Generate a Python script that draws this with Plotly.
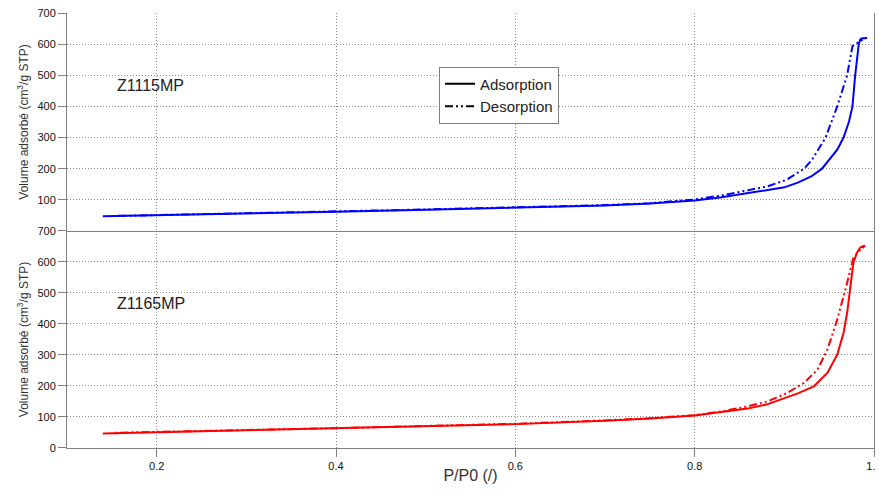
import plotly.graph_objects as go

# Z1115MP (blue, top panel)
top_ads_p = [0.14, 0.2, 0.3, 0.4, 0.5, 0.6, 0.7, 0.75, 0.8, 0.83, 0.86, 0.88, 0.9, 0.915, 0.93, 0.942, 0.95, 0.959, 0.966, 0.972, 0.976, 0.979, 0.983, 0.985]
top_ads_v = [47, 51, 57, 62, 68, 74, 82, 88, 98, 108, 121, 129, 140, 155, 175, 200, 228, 261, 300, 350, 400, 500, 600, 618]
top_des_p = [0.985, 0.992, 0.986, 0.976, 0.970, 0.959, 0.946, 0.931, 0.922, 0.903, 0.881, 0.859, 0.83, 0.8, 0.75, 0.7, 0.6, 0.5, 0.4, 0.3, 0.2, 0.15]
top_des_v = [618, 620, 612, 594, 500, 400, 300, 229, 200, 165, 143, 130, 114, 101, 89, 83, 75, 69, 63, 57, 52, 48]

# Z1165MP (red, bottom panel)
bot_ads_p = [0.14, 0.2, 0.3, 0.4, 0.5, 0.6, 0.7, 0.75, 0.8, 0.83, 0.859, 0.88, 0.896, 0.915, 0.933, 0.948, 0.959, 0.966, 0.970, 0.974, 0.977, 0.981, 0.985]
bot_ads_v = [47, 51, 57, 63, 69, 77, 88, 95, 105, 115, 127, 140, 156, 176, 199, 242, 301, 371, 435, 521, 597, 630, 648]
bot_des_p = [0.985, 0.99, 0.985, 0.977, 0.969, 0.959, 0.948, 0.937, 0.922, 0.903, 0.881, 0.859, 0.83, 0.8, 0.75, 0.7, 0.6, 0.5, 0.4, 0.3, 0.2, 0.15]
bot_des_v = [648, 652, 640, 613, 521, 414, 317, 253, 210, 177, 150, 134, 118, 106, 96, 89, 78, 70, 64, 58, 52, 49]

y_ticks_top = [100, 200, 300, 400, 500, 600, 700]
y_ticks_bot = [0, 100, 200, 300, 400, 500, 600, 700]
x_ticks = [0.2, 0.4, 0.6, 0.8, 1.0]
x_tick_text = ["0.2", "0.4", "0.6", "0.8", "1.0"]

DASH = "8px,3px,2px,3px,2px,3px"
FONT = "Arial, Liberation Sans, sans-serif"

fig = go.Figure()
fig.add_trace(go.Scatter(x=top_ads_p, y=top_ads_v, mode="lines", line=dict(color="#0000ff", width=2),
                         xaxis="x2", yaxis="y2", showlegend=False))
fig.add_trace(go.Scatter(x=top_des_p, y=top_des_v, mode="lines", line=dict(color="#0000ff", width=2, dash=DASH),
                         xaxis="x2", yaxis="y2", showlegend=False))
fig.add_trace(go.Scatter(x=bot_ads_p, y=bot_ads_v, mode="lines", line=dict(color="#ff0000", width=2),
                         xaxis="x", yaxis="y", showlegend=False))
fig.add_trace(go.Scatter(x=bot_des_p, y=bot_des_v, mode="lines", line=dict(color="#ff0000", width=2, dash=DASH),
                         xaxis="x", yaxis="y", showlegend=False))
# legend entries (black)
fig.add_trace(go.Scatter(x=[None], y=[None], mode="lines", name="Adsorption",
                         line=dict(color="black", width=2), xaxis="x2", yaxis="y2"))
fig.add_trace(go.Scatter(x=[None], y=[None], mode="lines", name="Desorption",
                         line=dict(color="black", width=2, dash=DASH), xaxis="x2", yaxis="y2"))

split = 0.499
grid = dict(showgrid=True, gridcolor="#8a8a8a", griddash="1px,2px", gridwidth=1)
yax_common = dict(range=[0, 700], showline=True, linecolor="#808080", linewidth=1, mirror=True,
                  ticks="outside", ticklen=8, tickcolor="#808080", zeroline=False, automargin=False,
                  ticklabeloverflow="allow",
                  tickfont=dict(size=11, color="#111111", family=FONT),
                  title=dict(text="Volume adsorbé (cm<sup>3</sup>/g STP)", font=dict(size=12, color="#333333", family=FONT), standoff=6),
                  **grid)

fig.update_layout(
    width=883, height=476,
    margin=dict(l=59, r=17, t=5, b=36),
    plot_bgcolor="white", paper_bgcolor="white",
    font=dict(family=FONT),
    xaxis=dict(range=[0.1, 1.0], anchor="y", tickvals=x_ticks, ticktext=x_tick_text,
               showline=True, linecolor="#808080", linewidth=1, ticks="outside", ticklen=8, tickcolor="#808080",
               zeroline=False, automargin=False, ticklabeloverflow="allow",
               tickfont=dict(size=11, color="#111111", family=FONT),
               title=dict(text="P/P0 (/)", font=dict(size=16, color="#333333", family=FONT), standoff=4),
               **grid),
    xaxis2=dict(range=[0.1, 1.0], anchor="y2", matches="x", tickvals=x_ticks, showticklabels=False,
                showline=True, linecolor="#808080", linewidth=1, ticks="", zeroline=False, automargin=False, **grid),
    yaxis=dict(domain=[0, split], anchor="x", tickvals=y_ticks_bot, **yax_common),
    yaxis2=dict(domain=[split, 1], anchor="x2", tickvals=y_ticks_top, **yax_common),
    legend=dict(x=0.461, y=0.877, xanchor="left", yanchor="top", bgcolor="white",
                bordercolor="#808080", borderwidth=1, font=dict(size=15, color="#222222", family=FONT),
                tracegroupgap=0, itemwidth=30),
    annotations=[
        dict(text="Z1115MP", x=0.154, y=468, xref="x2", yref="y2", xanchor="left", yanchor="middle",
             showarrow=False, font=dict(size=16, color="#222222", family=FONT)),
        dict(text="Z1165MP", x=0.154, y=465, xref="x", yref="y", xanchor="left", yanchor="middle",
             showarrow=False, font=dict(size=16, color="#222222", family=FONT)),
    ],
)

fig.write_html("out.html")
